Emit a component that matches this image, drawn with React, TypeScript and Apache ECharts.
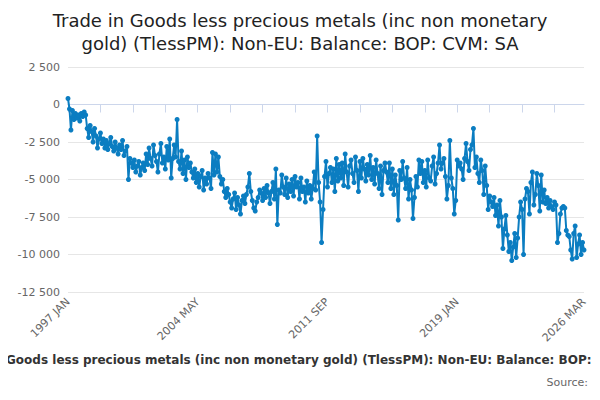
import React, { useEffect, useRef } from "react";
import * as echarts from "echarts";

const MONTHS = ["JAN","FEB","MAR","APR","MAY","JUN","JUL","AUG","SEP","OCT","NOV","DEC"];
const startYear = 1997;
const values: number[] = [
  // 1997
  400, -300, -1700, -400, -1000, -600, -900, -700, -1100, -600, -800, -500,
  // 1998
  -700, -1600, -2200, -1400, -1800, -2500, -1600, -2100, -2900, -2300, -1900, -2600,
  // 1999
  -2300, -2900, -2400, -3000, -2600, -2200, -2800, -3100, -2500, -2900, -3300, -2700,
  // 2000
  -3000, -2400, -3400, -3100, -2800, -5000, -3600, -3900, -4200, -3700, -4500, -4100,
  // 2001
  -3800, -4700, -4200, -3900, -4400, -3300, -4000, -2900, -3600, -4100, -2700, -3400,
  // 2002
  -3800, -4500, -3300, -2600, -3900, -3500, -4300, -2800, -3700, -2300, -4900, -3600,
  // 2003
  -2700, -3500, -1000, -3800, -4300, -3100, -4600, -3700, -5000, -3500, -4200, -3900,
  // 2004
  -4500, -4900, -4300, -5200, -4600, -5500, -4800, -4400, -5700, -4900, -5300, -4600,
  // 2005
  -4900, -5600, -3200, -4700, -3300, -4500, -3500, -4800, -5300, -5000, -5800, -6200,
  // 2006
  -5600, -6000, -6500, -6900, -6300, -5900, -7000, -6200, -6700, -7300, -6400, -6100,
  // 2007
  -6600, -6000, -5500, -4600, -5800, -6400, -6900, -7100, -6500, -6200, -5700, -5900,
  // 2008
  -6400, -5600, -6200, -5400, -5900, -6600, -5800, -5200, -6300, -4300, -8000, -5700,
  // 2009
  -5900, -4700, -5500, -6000, -4900, -6200, -5300, -5800, -5000, -6100, -4800, -5500,
  // 2010
  -5200, -6300, -4900, -5800, -5500, -6500, -5100, -5900, -5400, -6300, -5600, -4500,
  // 2011
  -5700, -2100, -5200, -6500, -9200, -7000, -4800, -3800, -5500, -4600, -4200, -5200,
  // 2012
  -4300, -5800, -3600, -5100, -4000, -4900, -3900, -5400, -3300, -4500, -5500, -4100,
  // 2013
  -3700, -4600, -5200, -3500, -4400, -5800, -3800, -4900, -3600, -4300, -5100, -4000,
  // 2014
  -4700, -3400, -5000, -4200, -5300, -3700, -4600, -5600, -4100, -6000, -4400, -3900,
  // 2015
  -4500, -5200, -3900, -5600, -4300, -6000, -4700, -5400, -7700, -4400, -5000, -3800,
  // 2016
  -4900, -5600, -4200, -6300, -5000, -5700, -7600, -6200, -4800, -5500, -3700, -4600,
  // 2017
  -3800, -5200, -4400, -5500, -3700, -4900, -5100, -4100, -3500, -5300, -4600, -3900,
  // 2018
  -2700, -4300, -3900, -3600, -4800, -6300, -5400, -2400, -4900, -5600, -7300, -6400,
  // 2019
  -3700, -4100, -3900, -4300, -5000, -3600, -2600, -3800, -4400, -3000, -2700, -1600,
  // 2020
  -4200, -3500, -4600, -5200, -3700, -4400, -6000, -4100, -5400, -7000, -6100, -6500,
  // 2021
  -6800, -6200, -7400, -6700, -8100, -6400, -7500, -9600, -8300, -7400, -8700, -9800,
  // 2022
  -9200, -10400, -9500, -8600, -10200, -8900, -7500, -6500, -7000, -10000, -6300, -5600,
  // 2023
  -5800, -7300, -5200, -4500, -6700, -6000, -4600, -5400, -7100, -4700, -6500, -5700,
  // 2024
  -6600, -6200, -6900, -6400, -6800, -7000, -6500, -6700, -9200, -8600, -7300, -6900,
  // 2025
  -6800, -6900, -8400, -8700, -8800, -9700, -10300, -8600, -8100, -10200, -9300, -8700,
  // 2026
  -10000, -9200, -9700,
];

const dates: string[] = values.map((_, i) => `${startYear + Math.floor(i / 12)} ${MONTHS[i % 12]}`);

export default function App() {
  const ref = useRef<HTMLDivElement>(null);
  useEffect(() => {
    const chart = echarts.init(ref.current!, undefined, { renderer: "svg" });
    const last = dates.length - 1;
    chart.setOption({
      animation: false,
      title: {
        text: "Trade in Goods less precious metals (inc non monetary\ngold) (TlessPM): Non-EU: Balance: BOP: CVM: SA",
        left: "center",
        top: -4,
        textStyle: { fontFamily: "DejaVu Sans", fontSize: 18, fontWeight: "normal", color: "#222", lineHeight: 23 },
      },
      graphic: [
        { type: "text", left: "center", top: 346, style: { text: "Trade in Goods less precious metals (inc non monetary gold) (TlessPM): Non-EU: Balance: BOP: CVM: SA", fontFamily: "DejaVu Sans", fontSize: 12, fontWeight: "bold", fill: "#333" } },
        { type: "text", right: 4, top: 369, style: { text: "Source:", fontFamily: "DejaVu Sans", fontSize: 11, fill: "#666" } },
      ],
      grid: { left: 60, right: 8, top: 59, bottom: 100 },
      xAxis: {
        type: "category",
        data: dates,
        boundaryGap: false,
        axisLine: { lineStyle: { color: "#ccd6eb" } },
        axisTick: { interval: 21, length: 8, lineStyle: { color: "#ccd6eb" } },
        axisLabel: {
          interval: (i: number) => i % 88 === 0 || i === last,
          rotate: 45,
          color: "#666",
          fontFamily: "DejaVu Sans",
          fontSize: 11,
          margin: 8,
        },
      },
      yAxis: {
        type: "value",
        min: -12500,
        max: 2500,
        interval: 2500,
        axisLabel: {
          color: "#666",
          fontFamily: "DejaVu Sans",
          fontSize: 11,
          formatter: (v: number) => (v < 0 ? "-" : "") + Math.abs(v).toLocaleString("en-US").replace(/,/g, " "),
        },
        splitLine: { lineStyle: { color: "#e6e6e6" } },
      },
      series: [
        {
          type: "line",
          data: values,
          symbol: "circle",
          symbolSize: 5,
          showAllSymbol: true,
          itemStyle: { color: "#0b7dc1" },
          lineStyle: { color: "#0b7dc1", width: 2 },
        },
      ],
    });
    return () => chart.dispose();
  }, []);
  return <div ref={ref} style={{ width: 584, height: 384 }} />;
}
